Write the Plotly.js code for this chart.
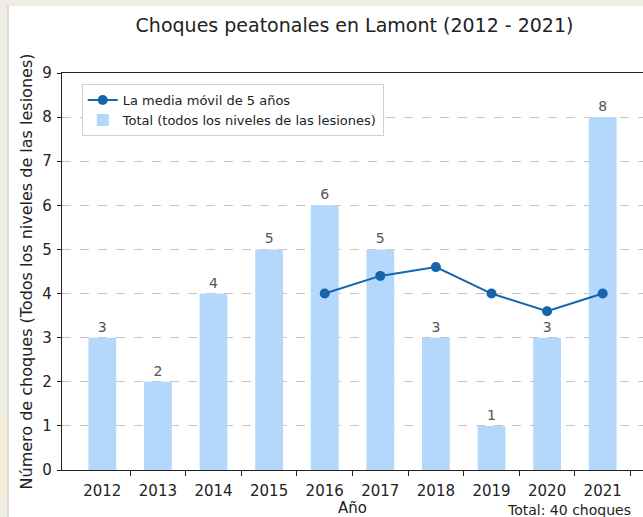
<!DOCTYPE html>
<html>
<head>
<meta charset="utf-8">
<script src="https://cdn.plot.ly/plotly-3.0.1.min.js"></script>
<style>
  html, body { margin: 0; padding: 0; background: #efece6; width: 643px; height: 517px; overflow: hidden; }
  #strip { position: absolute; left: 7px; top: 5px; width: 2px; height: 512px; background: #dcd9d2; }
  #yel { position: absolute; left: 0px; top: 415px; width: 7px; height: 85px; background: #f3ecda; }
  #chart { position: absolute; left: 9px; top: 6px; width: 634px; height: 511px; background: #fff; }
</style>
</head>
<body>
<div id="yel"></div>
<div id="strip"></div>
<div id="chart"></div>
<script>
const years = [2012, 2013, 2014, 2015, 2016, 2017, 2018, 2019, 2020, 2021];
const totals = [3, 2, 4, 5, 6, 5, 3, 1, 3, 8];
const maYears = [2016, 2017, 2018, 2019, 2020, 2021];
const movingAvg = [4.0, 4.4, 4.6, 4.0, 3.6, 4.0];

const titleText = 'Choques peatonales en Lamont (2012 - 2021)';
const yTitle = 'Número de choques (Todos los niveles de las lesiones)';
const xTitle = 'Año';
const lineName = 'La media móvil de 5 años';
const barName = 'Total (todos los niveles de las lesiones)';
const totalSum = totals.reduce((a, b) => a + b, 0);

const font = 'DejaVu Sans, sans-serif';

const traces = [
  {
    type: 'scatter', mode: 'lines+markers', x: maYears, y: movingAvg, name: lineName,
    line: { color: '#1565ad', width: 2 },
    marker: { color: '#1565ad', size: 10 },
    hoverinfo: 'skip'
  },
  {
    type: 'bar', x: years, y: totals, name: barName, width: 0.5,
    marker: { color: '#b3d8fc' },
    text: totals.map(String), textposition: 'outside', cliponaxis: false,
    textfont: { family: font, size: 14, color: '#555' },
    hoverinfo: 'skip'
  }
];

const layout = {
  width: 634, height: 511,
  margin: { l: 53, r: 0, t: 67, b: 47 },
  paper_bgcolor: '#fff', plot_bgcolor: '#fff',
  font: { family: font, size: 15, color: '#222' },
  showlegend: true,
  title: { text: titleText, font: { family: font, size: 19, color: '#222' }, x: 0.545, xanchor: 'center', y: 0.963, yanchor: 'middle' },
  xaxis: {
    type: 'linear', range: [2011.275, 2021.725],
    tickvals: years, ticktext: years.map(String),
    ticks: '', showgrid: false, zeroline: false,
    showline: true, linecolor: '#222', linewidth: 1.2, mirror: true,
    tickfont: { family: font, size: 15, color: '#222' },
    ticklabelstandoff: 7,
    minor: { tickvals: years.map(y => y + 0.5), ticks: 'outside', ticklen: 5, tickcolor: '#222', showgrid: false },
    title: { text: xTitle, font: { family: font, size: 15, color: '#222' }, standoff: 8 },
    automargin: false
  },
  yaxis: {
    range: [0, 9], dtick: 1, tick0: 0,
    ticks: 'outside', ticklen: 4, tickcolor: '#222',
    showline: true, linecolor: '#222', linewidth: 1.2,
    showgrid: true, gridcolor: '#c4c4c4', griddash: 'dash', gridwidth: 1,
    zeroline: false,
    tickfont: { family: font, size: 15, color: '#222' },
    ticklabelstandoff: 2,
    title: { text: yTitle, font: { family: font, size: 16, color: '#222' }, standoff: 5 },
    automargin: false
  },
  legend: {
    x: 0.034, y: 0.972, xanchor: 'left', yanchor: 'top',
    bgcolor: '#fff', bordercolor: '#d0d0d0', borderwidth: 1,
    font: { family: font, size: 13, color: '#222' },
    traceorder: 'normal', tracegroupgap: 0
  },
  annotations: [
    { text: 'Total: ' + totalSum + ' choques', xref: 'paper', yref: 'paper', x: 0.762, y: -0.1,
      xanchor: 'left', yanchor: 'middle', showarrow: false, font: { family: font, size: 14, color: '#222' } }
  ]
};

Plotly.newPlot('chart', traces, layout, { staticPlot: true, displayModeBar: false });
</script>
</body>
</html>
